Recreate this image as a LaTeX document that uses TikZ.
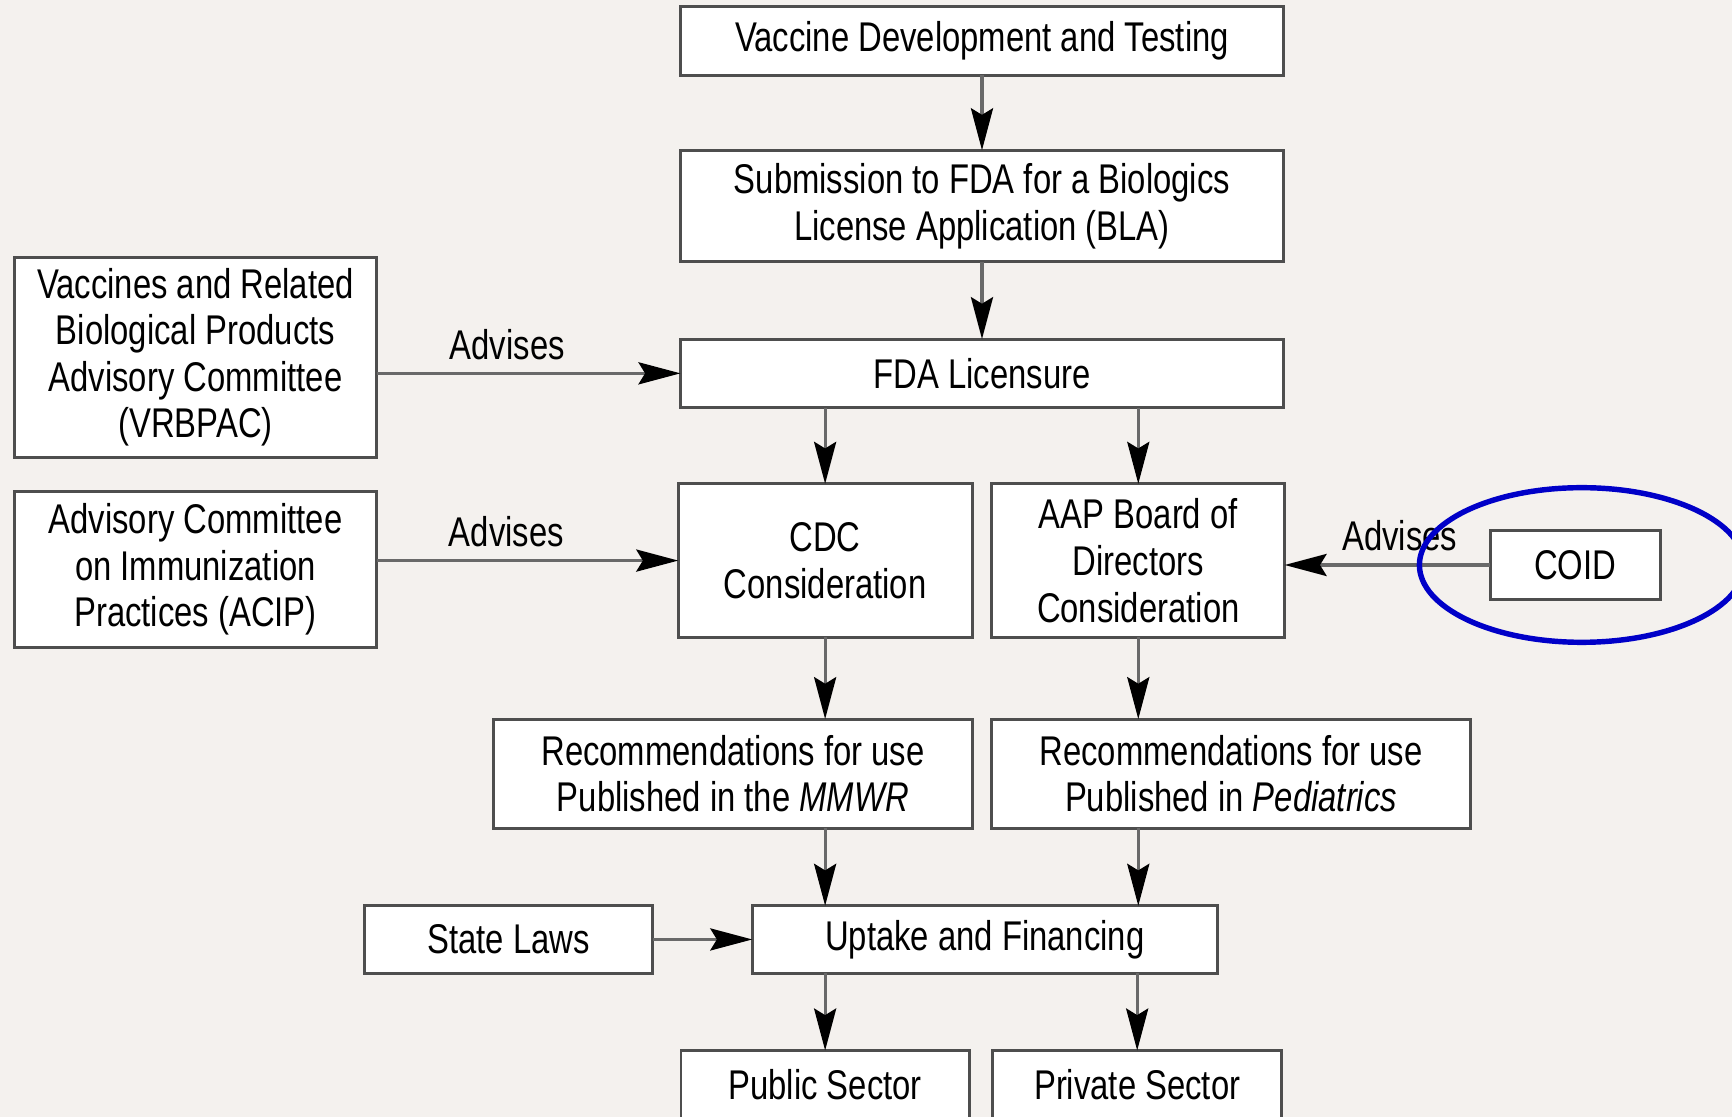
\documentclass[tikz,border=0pt]{standalone}
\usepackage{fontspec}
\setmainfont{Liberation Sans}[FakeStretch=0.79]
\usetikzlibrary{arrows.meta, positioning, calc}
\definecolor{paper}{RGB}{244,241,238}
\definecolor{edgegray}{RGB}{78,78,78}
\definecolor{linegray}{RGB}{105,105,105}
\definecolor{ringblue}{RGB}{0,0,200}
\tikzset{
    stepbox/.style={rectangle, draw=edgegray, fill=white, line width=0.75pt, inner sep=0pt,
                    outer sep=0pt, align=center, font=\fontsize{10.7}{12}\selectfont},
    arrow/.style={-{Stealth[length=3.8mm, width=2mm, inset=0.6mm, color=black]},
                  draw=linegray, line width=0.8pt},
    lbl/.style={font=\fontsize{10.7}{12}\selectfont, inner sep=1.1mm},
    ring/.style={draw=ringblue, line width=1.4pt},
}
\begin{document}
\begin{tikzpicture}

    \useasboundingbox (0,0) rectangle (15.68,-10.11);
    \clip (0,0) rectangle (15.68,-10.11);
    \fill[paper] (0,0) rectangle (15.68,-10.11);

    \node[stepbox, minimum width=5.46cm, minimum height=0.62cm] (vdt) at (8.89,-0.37)
        {Vaccine Development and Testing};
    \node[stepbox, minimum width=5.46cm, minimum height=1.01cm, below=0.68cm of vdt] (bla)
        {Submission to FDA for a Biologics\\License Application (BLA)};
    \node[stepbox, minimum width=5.46cm, minimum height=0.62cm, below=0.70cm of bla] (fda)
        {FDA Licensure};

    \node[stepbox, minimum width=3.28cm, minimum height=1.81cm, left=2.75cm of fda, yshift=0.145cm] (vrbpac)
        {Vaccines and Related\\Biological Products\\Advisory Committee\\(VRBPAC)};

    % the two consideration boxes side by side under licensure
    \node[stepbox, minimum width=2.66cm, minimum height=1.39cm, below=0.69cm of fda.south west,
          anchor=north west, xshift=-0.02cm] (cdc) {CDC\\Consideration};
    \node[stepbox, minimum width=2.65cm, minimum height=1.39cm, right=0.18cm of cdc] (aap)
        {AAP Board of\\Directors\\Consideration};
    \node[stepbox, minimum width=3.28cm, minimum height=1.41cm, left=2.73cm of cdc, yshift=-0.08cm] (acip)
        {Advisory Committee\\on Immunization\\Practices (ACIP)};
    \node[stepbox, minimum width=1.54cm, minimum height=0.63cm, right=1.86cm of aap, yshift=-0.04cm] (coid)
        {COID};

    \node[stepbox, minimum width=4.33cm, minimum height=0.99cm, below=0.74cm of cdc.south east,
          anchor=north east] (mmwr) {Recommendations for use\\Published in the \textit{MMWR}};
    \node[stepbox, minimum width=4.33cm, minimum height=0.99cm, right=0.18cm of mmwr] (ped)
        {Recommendations for use\\Published in \textit{Pediatrics}};

    \node[stepbox, minimum width=4.21cm, minimum height=0.61cm, below=0.70cm of mmwr.south east,
          anchor=north, xshift=0.115cm] (uptake) {Uptake and Financing};
    \node[stepbox, minimum width=2.61cm, minimum height=0.61cm, left=0.90cm of uptake] (state)
        {State Laws};

    \node[stepbox, minimum width=2.61cm, minimum height=0.62cm, anchor=north, yshift=-0.70cm] (public)
        at (uptake.south -| cdc) {Public Sector};
    \node[stepbox, minimum width=2.62cm, minimum height=0.62cm, right=0.21cm of public] (private)
        {Private Sector};

    \draw[arrow] (vdt) -- (bla);
    \draw[arrow] (bla) -- (fda);

    \draw[arrow] (fda.south -| cdc) -- (cdc);
    \draw[arrow] (fda.south -| aap) -- (aap);
    \draw[arrow] (cdc) -- (mmwr.north -| cdc);
    \draw[arrow] (aap) -- (ped.north -| aap);
    \draw[arrow] (mmwr.south -| cdc) -- (uptake.north -| cdc);
    \draw[arrow] (ped.south -| aap) -- (uptake.north -| aap);
    \draw[arrow] (uptake.south -| public) -- (public);
    \draw[arrow] (uptake.south -| private) -- (private);

    % advisory bodies feeding in from the sides
    \draw[arrow] (vrbpac.east |- fda) -- node[lbl, above, pos=0.43] {Advises} (fda);
    \draw[arrow] (acip.east |- cdc) -- node[lbl, above, pos=0.43] {Advises} (cdc);
    \draw[arrow] (coid.west) -- node[lbl, above, pos=0.44] {Advises} (coid.west -| aap.east);
    \draw[arrow] (state) -- (uptake);

    \draw[ring] ([xshift=0.06cm]coid.center) ellipse [x radius=1.47cm, y radius=0.70cm];

\end{tikzpicture}
\end{document}
